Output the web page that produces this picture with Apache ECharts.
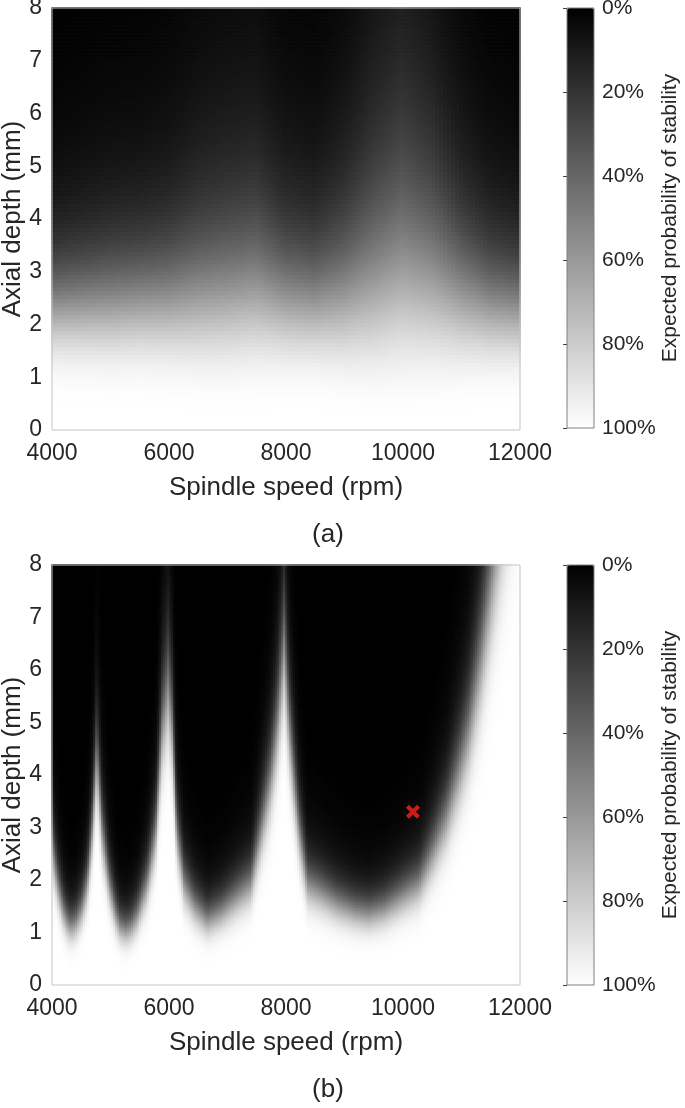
<!DOCTYPE html>
<html><head><meta charset="utf-8">
<script src="https://cdn.jsdelivr.net/npm/echarts@6/dist/echarts.min.js"></script>
<style>html,body{margin:0;padding:0;background:#fff}#c{width:685px;height:1108px}</style>
</head><body><div id="c"></div>
<script>
// ---------- Data ----------
// Panel (a): per spindle speed, depth (mm) at which stability probability is 50 %, and steepness of the fall-off
const speedA = [4000,4500,5000,5500,6000,6500,7000,7500,8000,8500,9000,9500,10000,10500,11000,11500,12000];
const midDepthA = [2.55,2.6,2.65,2.7,2.75,2.9,3.0,3.1,2.8,2.7,2.9,3.3,3.7,3.4,2.9,2.6,2.5];
const steepA = [4.0,3.8,3.6,3.6,3.4,3.1,3.0,3.0,3.3,3.4,3.0,2.6,2.5,2.7,3.1,3.5,3.7];

// Panel (b): stability-lobe boundary (50 % contour), spindle speed (rpm) -> axial depth (mm)
const speedB = [4000,4050,4108,4200,4270,4337,4420,4520,4620,4700,4781,4872,4991,5100,5180,5277,5370,5470,5641,5790,5897,6000,6070,6145,6274,6450,6667,6900,7150,7413,7585,7750,7863,7983,8070,8150,8240,8380,8600,8900,9200,9436,9700,10000,10290,10520,10752,11000,11145,11350,11540,11750,12000];
const boundaryB = [3.0,2.45,2.0,1.5,1.27,1.17,1.24,1.5,2.0,3.0,4.5,3.0,2.0,1.42,1.17,1.1,1.17,1.38,2.0,3.0,5.0,5.8,5.0,3.0,2.0,1.58,1.3,1.45,1.72,2.0,3.0,4.0,5.0,6.6,5.0,4.0,3.0,2.0,1.85,1.62,1.47,1.42,1.52,1.76,2.0,2.6,3.27,4.3,5.0,6.4,8.0,9.8,12.0];
const spreadBaseB = 0.1, spreadRelB = 0.1; // depth uncertainty (mm) across the boundary: base + rel * depth

// Marked test point in (b)
const markB = [[10170, 3.3]];

// Axes
const speedRange = [4000, 12000];
const depthRange = [0, 8];

// ---------- Build grids ----------
function lerp(xs, ys, x){
  if (x <= xs[0]) return ys[0];
  for (let i = 1; i < xs.length; i++) {
    if (x <= xs[i]) { const t = (x - xs[i-1]) / (xs[i] - xs[i-1]); return ys[i-1] + t * (ys[i] - ys[i-1]); }
  }
  return ys[ys.length-1];
}
function grayOf(p){ const g = Math.round(p * 2.55); return 'rgb(' + g + ',' + g + ',' + g + ')'; }
const NXA = 117, NYA = 106, NXB = 234, NYB = 168;
const xCatA = Array.from({length:NXA}, (_, i) => i), yCatA = Array.from({length:NYA}, (_, i) => i);
const xCatB = Array.from({length:NXB}, (_, i) => i), yCatB = Array.from({length:NYB}, (_, i) => i);
const span = speedRange[1] - speedRange[0], dspan = depthRange[1] - depthRange[0];
const cellsA = [], cellsB = [];
for (let i = 0; i < NXA; i++) {
  const s = speedRange[0] + (i + 0.5) * span / NXA;
  const m = lerp(speedA, midDepthA, s), k = lerp(speedA, steepA, s);
  for (let j = 0; j < NYA; j++) {
    const d = (j + 0.5) * dspan / NYA;
    const p = 100 / (1 + Math.pow(d / m, k));
    cellsA.push({value:[i, j, p], itemStyle:{borderColor:grayOf(p)}});
  }
}
for (let i = 0; i < NXB; i++) {
  const s = speedRange[0] + (i + 0.5) * span / NXB;
  const b = lerp(speedB, boundaryB, s);
  for (let j = 0; j < NYB; j++) {
    const d = (j + 0.5) * dspan / NYB;
    const p = 100 / (1 + Math.exp((d - b) / (spreadBaseB + spreadRelB * d)));
    cellsB.push({value:[i, j, p], itemStyle:{borderColor:grayOf(p)}});
  }
}

// ---------- Chart ----------
const txt = '#262626';
const ff = '"Liberation Sans", Arial, Helvetica, sans-serif';
const chart = echarts.init(document.getElementById('c'), null, {renderer:'canvas'});
const plain = v => String(v);

function valX(g){
  return {type:'value', gridIndex:g, min:speedRange[0], max:speedRange[1], interval:2000,
    axisLine:{show:false}, axisTick:{show:false}, splitLine:{show:false},
    axisLabel:{color:txt, fontSize:23, fontFamily:ff, margin:12, formatter:plain},
    name:'Spindle speed (rpm)', nameLocation:'middle', nameGap:45, nameMoveOverlap:false,
    nameTextStyle:{color:txt, fontSize:26, fontFamily:ff}};
}
function valY(g){
  return {type:'value', gridIndex:g, min:depthRange[0], max:depthRange[1], interval:1,
    axisLine:{show:false}, axisTick:{show:false}, splitLine:{show:false},
    axisLabel:{color:txt, fontSize:23, fontFamily:ff, margin:10, formatter:plain},
    name:'Axial depth (mm)', nameLocation:'middle', nameGap:26, nameMoveOverlap:false,
    nameTextStyle:{color:txt, fontSize:26, fontFamily:ff}};
}
function cbY(g){
  return {type:'value', gridIndex:g, min:0, max:100, interval:20, inverse:true, position:'right', z:8,
    axisLine:{show:false}, splitLine:{show:false},
    axisTick:{show:true, inside:true, length:4, lineStyle:{color:'#404040', width:1}},
    axisLabel:{color:txt, fontSize:21, fontFamily:ff, margin:8, formatter:'{value}%'},
    name:'Expected probability of stability', nameLocation:'middle', nameRotate:90, nameGap:66,
    nameTextStyle:{color:txt, fontSize:21, fontFamily:ff}};
}
function vm(si, top){
  return {type:'continuous', seriesIndex:si, min:0, max:100, inverse:true, calculable:false, hoverLink:false,
    left:567, top:top, itemWidth:27, itemHeight:420, padding:0, text:null,
    inRange:{color:['#000000','#ffffff']}};
}
const gridStyle = {show:true, backgroundColor:'transparent', z:6, containLabel:false, outerBoundsMode:'none'};

chart.setOption({
  animation:false,
  backgroundColor:'#ffffff',
  textStyle:{fontFamily:ff},
  grid:[
    Object.assign({left:52, top:8, width:468, height:422, borderColor:'#c4c4c4', borderWidth:1}, gridStyle),
    Object.assign({left:52, top:565, width:468, height:420, borderColor:'#c4c4c4', borderWidth:1}, gridStyle),
    Object.assign({left:567, top:8, width:27, height:420, borderColor:'#808080', borderWidth:1}, gridStyle),
    Object.assign({left:567, top:565, width:27, height:420, borderColor:'#808080', borderWidth:1}, gridStyle)
  ],
  xAxis:[
    valX(0),
    {type:'category', gridIndex:0, data:xCatA, show:false},
    valX(1),
    {type:'category', gridIndex:1, data:xCatB, show:false},
    {type:'value', gridIndex:2, min:0, max:1, show:false},
    {type:'value', gridIndex:3, min:0, max:1, show:false}
  ],
  yAxis:[
    valY(0),
    {type:'category', gridIndex:0, data:yCatA, show:false},
    valY(1),
    {type:'category', gridIndex:1, data:yCatB, show:false},
    cbY(2),
    cbY(3)
  ],
  visualMap:[vm(0, 8), vm(1, 565)],
  series:[
    {type:'heatmap', xAxisIndex:1, yAxisIndex:1, data:cellsA, progressive:0, emphasis:{disabled:true}, silent:true, itemStyle:{borderWidth:1}},
    {type:'heatmap', xAxisIndex:3, yAxisIndex:3, data:cellsB, progressive:0, emphasis:{disabled:true}, silent:true, itemStyle:{borderWidth:1}},
    {type:'scatter', xAxisIndex:2, yAxisIndex:2, data:markB, z:10, silent:true,
      symbol:'path://M2.5,0 L6,3.5 L9.5,0 L12,2.5 L8.5,6 L12,9.5 L9.5,12 L6,8.5 L2.5,12 L0,9.5 L3.5,6 L0,2.5 Z',
      symbolSize:14, itemStyle:{color:'#ff2020'}}
  ],
  graphic:[
    {type:'text', x:328, y:535, style:{text:'(a)', fill:txt, font:'26px ' + ff, textAlign:'center', textVerticalAlign:'middle'}},
    {type:'text', x:328, y:1090, style:{text:'(b)', fill:txt, font:'26px ' + ff, textAlign:'center', textVerticalAlign:'middle'}}
  ]
});
</script>
</body></html>
